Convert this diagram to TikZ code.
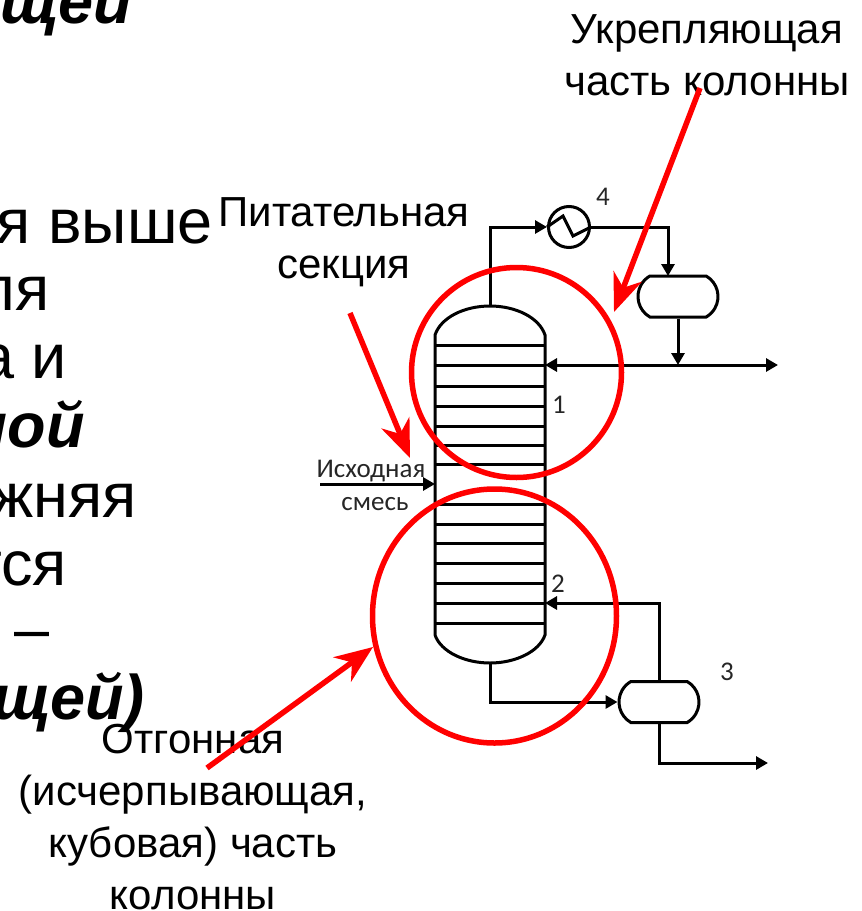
\documentclass[tikz,border=0pt]{standalone}
\usepackage{fontspec}
\setmainfont{Liberation Sans}
\newfontfamily\schemefont{Carlito}
\usetikzlibrary{arrows.meta,positioning,shapes.misc}
\tikzset{
  pipe/.style={line width=3pt,-{Stealth[length=12pt,width=13pt,inset=0pt]}},
  wall/.style={line width=3pt},
  vessel/.style={draw,line width=3pt,rounded rectangle,rounded rectangle arc length=120,minimum width=80pt,minimum height=41pt,inner sep=0pt},
  cooler/.style={draw,circle,line width=3pt,minimum size=41pt,inner sep=0pt},
  zone/.style={draw=red,line width=5.5pt},
  pointer/.style={draw=red,line width=5.5pt,-{Stealth[length=38pt,width=30pt,inset=12pt]}},
  num/.style={font=\schemefont\fontsize{27}{27}\selectfont,text=black!85},
  caption/.style={font=\fontsize{42}{52}\selectfont,align=center,anchor=base},
  body/.style={font=\fontsize{63}{63}\selectfont,anchor=base east,inner sep=0pt},
  bodybold/.style={font=\fontsize{63}{63}\selectfont\bfseries\itshape,anchor=base east,inner sep=0pt}
}
\begin{document}
\begin{tikzpicture}[x=1pt,y=-1pt]
   \useasboundingbox (0,0) rectangle (862,911);
   \clip (0,0) rectangle (862,911);

   \node [bodybold] (l0) at (132,23) {щей};
   \node [body] (l1) at (213,243) {я выше};
   \node [body] (l2) at (50,310) {ля};
   \node [body] (l3) at (67,378) {а и};
   \node [bodybold] (l4) at (85,447) {ной};
   \node [body] (l5) at (137,517) {жняя};
   \node [body] (l6) at (67,585) {тся};
   \node [body] (l7) at (50,650) {–};
   \node [bodybold] (l8) at (145,719) {щей)};

   \coordinate (topL) at (435,335);
   \coordinate (topR) at (545,335);
   \coordinate (botL) at (435,635);
   \coordinate (botR) at (545,635);
   \coordinate (domeTop) at (490,306);
   \coordinate (domeBot) at (490,663);
   \draw [wall] (botL) -- (topL) .. controls (441,317) and (465,306) .. (domeTop)
      .. controls (515,306) and (539,317) .. (topR) -- (botR)
      .. controls (539,652) and (515,663) .. (domeBot)
      .. controls (465,663) and (441,652) .. (botL);
   \foreach \y in {345,365,386,406,426,445,464,504,524,543,563,583,603,623}
      \draw [wall] (435,\y) -- (545,\y);

   \node [cooler] (cool) at (569,227) {};
   \draw [line width=3pt] (cool.west) -- (563,216) -- (573,236) -- (cool.east);
   \node [vessel] (drum) at (678,296.5) {};
   \node [vessel] (reboil) at (659,702) {};

   \coordinate (upTurn) at (490,227);
   \coordinate (coolTurn) at (668,227);
   \coordinate (drumIn) at (668,276);
   \coordinate (drumOut) at (678,365);
   \coordinate (refluxIn) at (545,365);
   \coordinate (product) at (778,365);
   \coordinate (feedTail) at (320,484);
   \coordinate (feedIn) at (435,484);
   \coordinate (botTurn) at (490,702);
   \coordinate (retTurn) at (659,603);
   \coordinate (retIn) at (545,603);
   \coordinate (resTurn) at (659,763);
   \coordinate (residue) at (768,763);

   \draw [pipe] (domeTop) -- (upTurn) -- (cool.west);
   \draw [pipe] (cool.east) -- (coolTurn) -- (drumIn);
   \draw [pipe] (drum.south) -- (drumOut);
   \draw [pipe] (drumOut) -- (refluxIn);
   \draw [pipe] (drumOut) -- (product);
   \draw [pipe] (feedTail) -- (feedIn);
   \draw [pipe] (domeBot) -- (botTurn) -- (reboil.west);
   \draw [pipe] (reboil.north) -- (retTurn) -- (retIn);
   \draw [pipe] (reboil.south) -- (resTurn) -- (residue);

   \node [num] (n4) at (603,197) {4};
   \node [num] (n1) at (559,405) {1};
   \node [num] (n2) at (558,584) {2};
   \node [num] (n3) at (727,672) {3};
   \node [num] (feedA) at (371,471) {Исходная};
   \node [num] (feedB) at (375,504) {смесь};

   \node [caption] (upper) at (707,95) {Укрепляющая\\часть колонны};
   \node [caption] (feedsec) at (344,278) {Питательная\\секция};
   \node [caption] (lower) at (193,909) {Отгонная\\(исчерпывающая,\\кубовая) часть\\колонны};

   \node [zone,circle,minimum size=210pt,inner sep=0pt] (zoneTop) at (516.5,372.5) {};
   \draw [zone] (494.5,616) ellipse (122 and 127);

   \coordinate (upperTail) at (700,88);
   \coordinate (upperTip) at (614,312);
   \coordinate (feedsecTail) at (350,313);
   \coordinate (feedsecTip) at (410,458);
   \coordinate (lowerTail) at (207,768);
   \coordinate (lowerTip) at (373,647);
   \draw [pointer] (upperTail) -- (upperTip);
   \draw [pointer] (feedsecTail) -- (feedsecTip);
   \draw [pointer] (lowerTail) -- (lowerTip);
\end{tikzpicture}
\end{document}
